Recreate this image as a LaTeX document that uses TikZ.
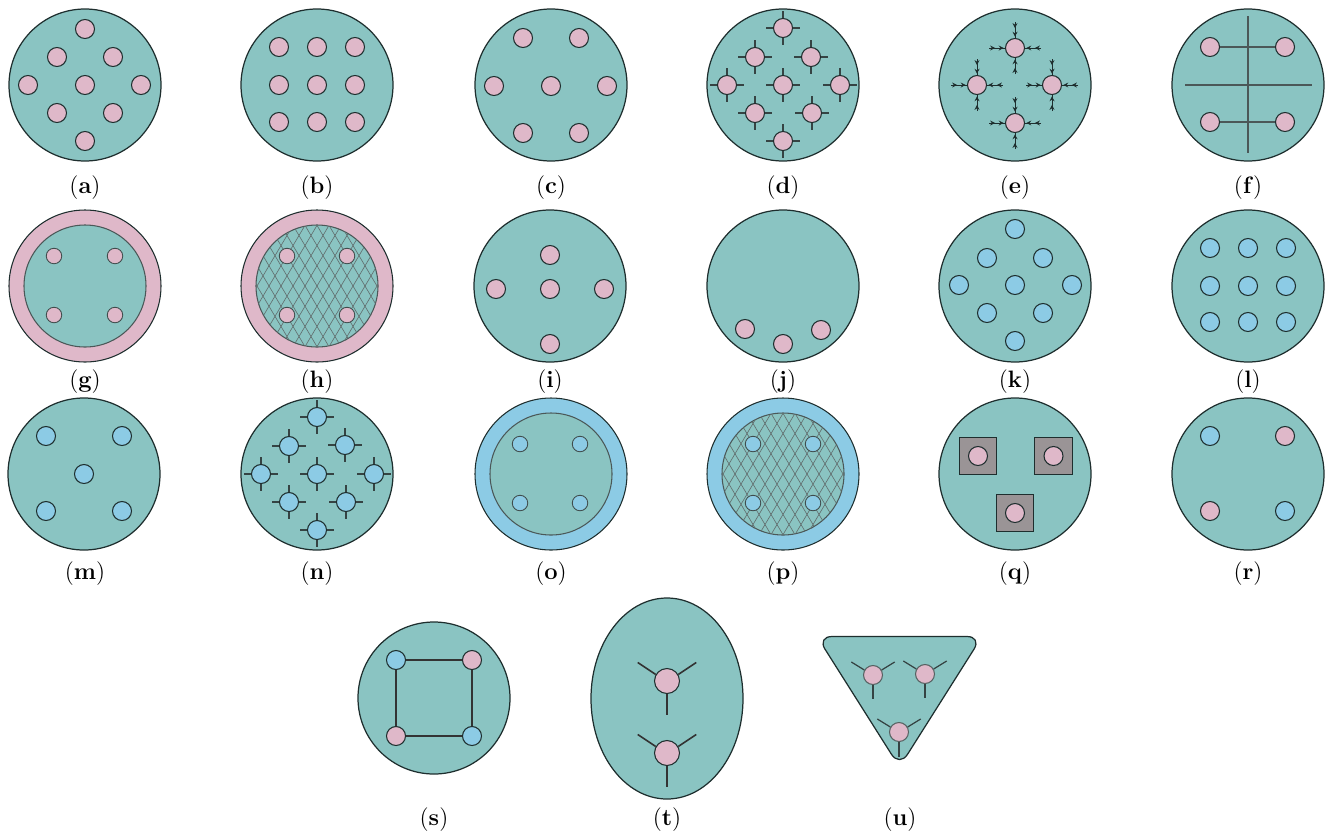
\documentclass[tikz,border=0pt]{standalone}
\usepackage{xcolor}
\usepackage{tikz}
\usetikzlibrary{arrows.meta,decorations.markings}

\definecolor{plategreen}{HTML}{8AC4C2}
\definecolor{pinkfill}{HTML}{DFB8C9}
\definecolor{bluefill}{HTML}{8CCBE5}
\definecolor{greyfill}{HTML}{9A9496}
\definecolor{edgedark}{HTML}{1E2E2E}

\tikzset{
  plate/.style={draw=edgedark, fill=plategreen, line width=0.7pt},
  ringpink/.style={draw=edgedark, fill=pinkfill, line width=0.6pt},
  ringblue/.style={draw=edgedark, fill=bluefill, line width=0.6pt},
  inner/.style={draw=edgedark!80, fill=plategreen, line width=0.6pt},
  pinkdot/.style={circle, draw=edgedark, fill=pinkfill, line width=0.6pt, inner sep=0pt, minimum size=0.38cm},
  bluedot/.style={circle, draw=edgedark, fill=bluefill, line width=0.6pt, inner sep=0pt, minimum size=0.38cm},
  smallpink/.style={pinkdot, minimum size=0.31cm, draw=edgedark!85, line width=0.5pt},
  smallblue/.style={bluedot, minimum size=0.31cm, draw=edgedark!85, line width=0.5pt},
  spoke/.style={draw=edgedark!90, line width=0.7pt},
  thinline/.style={draw=edgedark!80, line width=0.65pt},
  arm/.style={draw=black!80, line width=0.9pt},
  meshline/.style={draw=edgedark!70, line width=0.35pt},
  feedline/.style={draw=edgedark, line width=0.5pt, postaction={decorate},
    decoration={markings,
      mark=at position 0.38 with {\arrow{Stealth[length=2.8pt,width=2.8pt]}},
      mark=at position 0.92 with {\arrow{Stealth[length=2.8pt,width=2.8pt]}}}},
  sublabel/.style={font=\fontsize{13.5}{16}\selectfont, inner sep=0pt},
}

\begin{document}
\begin{tikzpicture}[x=0.02cm, y=-0.02cm]
  \useasboundingbox (0,0) rectangle (1328,839);

  % Plain round plates
  \foreach \x/\y in {85/85,317/85,551/85,783/85,1015/85,1248/85,
                     550/286,783/286,1015/286,1248/286,
                     84/474,317/474,1015/474,1248/474,434/698} {
    \draw[plate] (\x,\y) circle (76);
  }

  % Plates with a ring
  \foreach \x/\y/\ring in {85/286/ringpink,317/286/ringpink,551/474/ringblue,783/474/ringblue} {
    \draw[\ring] (\x,\y) circle (76);
    \draw[inner] (\x,\y) circle (61);
  }

  % Mesh of (h) and (p)
  \foreach \x/\y in {317/286,783/474} {
    \begin{scope}
      \clip (\x,\y) circle (61);
      \foreach \k in {-14,...,14} {
        \draw[meshline] (\x+\k*12-38,\y-64) -- (\x+\k*12+38,\y+64);
        \draw[meshline] (\x+\k*12+38,\y-64) -- (\x+\k*12-38,\y+64);
      }
    \end{scope}
  }

  % Taller plate and triangular plate
  \draw[plate] (667,698.5) ellipse (76 and 100.5);
  \draw[plate, rounded corners=0.3cm] (817,636.5) -- (982,636.5) -- (899.5,767) -- cycle;

  % Dots of (a), (b), (c), (i), (j)
  \foreach \x/\y [count=\i] in {85/29,57/57,113/57,28/85,85/85,141/85,57/113,113/113,85/141,
      279/47,317/47,355/47,279/85,317/85,355/85,279/122,317/122,355/122,
      523/38,579/38,494/86,551/86,607/86,523/133,579/133,
      550/255,496/289,550/289,604/289,550/344,
      745/329,783/344,821/330} {
    \node[pinkdot] (p\i) at (\x,\y) {};
  }

  % Dots of (k), (l), (m)
  \foreach \x/\y [count=\i] in {1015/229,987/258,1043/258,959/285,1015/285,1072/285,987/313,1043/313,1015/341,
      1210/248,1248/248,1286/248,1210/286,1248/286,1286/286,1210/322,1248/322,1286/322,
      46/436,122/436,84/474,46/511,122/511} {
    \node[bluedot] (b\i) at (\x,\y) {};
  }

  % Dots with short ticks, (d) and (n)
  \foreach \x/\y [count=\i] in {783/28,755/57,811/57,727/85,783/85,840/85,755/113,812/113,783/141} {
    \node[pinkdot] (d\i) at (\x,\y) {};
    \draw[spoke] (d\i.north) -- ++(0,-7);
    \draw[spoke] (d\i.south) -- ++(0,7);
    \draw[spoke] (d\i.west) -- ++(-7,0);
    \draw[spoke] (d\i.east) -- ++(7,0);
  }
  \foreach \x/\y [count=\i] in {317/417,289/446,345/445,261/474,317/474,374/474,289/502,346/502,317/530} {
    \node[bluedot] (n\i) at (\x,\y) {};
    \draw[spoke] (n\i.north) -- ++(0,-7);
    \draw[spoke] (n\i.south) -- ++(0,7);
    \draw[spoke] (n\i.west) -- ++(-7,0);
    \draw[spoke] (n\i.east) -- ++(7,0);
  }

  % Dots with arrows running in, (e)
  \foreach \x/\y [count=\i] in {1015/48,977/85,1052/85,1015/123} {
    \node[pinkdot] (e\i) at (\x,\y) {};
    \coordinate (et\i) at (\x,\y-26);
    \coordinate (eb\i) at (\x,\y+26);
    \coordinate (el\i) at (\x-26,\y);
    \coordinate (er\i) at (\x+26,\y);
    \draw[feedline] (et\i) -- (e\i.north);
    \draw[feedline] (eb\i) -- (e\i.south);
    \draw[feedline] (el\i) -- (e\i.west);
    \draw[feedline] (er\i) -- (e\i.east);
  }

  % Plate (f)
  \coordinate (ftop) at (1248,16);
  \coordinate (fbot) at (1248,153);
  \coordinate (fleft) at (1185,85);
  \coordinate (fright) at (1312,85);
  \draw[thinline] (ftop) -- (fbot);
  \draw[thinline] (fleft) -- (fright);
  \node[pinkdot] (f1) at (1210,47) {};
  \node[pinkdot] (f2) at (1285,47) {};
  \node[pinkdot] (f3) at (1210,122) {};
  \node[pinkdot] (f4) at (1285,122) {};
  \draw[thinline] (f1) -- (f2);
  \draw[thinline] (f3) -- (f4);

  % Small dots on the ringed plates
  \foreach \x/\y [count=\i] in {54/256,115/256,54/315,115/315,287/256,347/256,287/315,347/315} {
    \node[smallpink] (g\i) at (\x,\y) {};
  }
  \foreach \x/\y [count=\i] in {520/444,580/444,520/503,580/503,753/444,813/444,753/503,813/503} {
    \node[smallblue] (o\i) at (\x,\y) {};
  }

  % Squares of (q)
  \foreach \x/\y [count=\i] in {978/456,1053.5/456,1015/513} {
    \node[draw=edgedark, fill=greyfill, line width=0.7pt, minimum size=0.75cm, inner sep=0pt] (q\i) at (\x,\y) {};
    \node[pinkdot] (qd\i) at (\x,\y) {};
  }

  % Mixed dots of (r)
  \node[bluedot] (r1) at (1210,436) {};
  \node[pinkdot] (r2) at (1285,436) {};
  \node[pinkdot] (r3) at (1210,511) {};
  \node[bluedot] (r4) at (1285,511) {};

  % Square of (s)
  \node[bluedot] (s1) at (396,660) {};
  \node[pinkdot] (s2) at (472,660) {};
  \node[pinkdot] (s3) at (396,736) {};
  \node[bluedot] (s4) at (472,736) {};
  \draw[arm] (s1) -- (s2) -- (s4) -- (s3) -- (s1);

  % Three armed dots of (t)
  \foreach \y [count=\i] in {681,753} {
    \node[pinkdot, minimum size=0.5cm] (t\i) at (667,\y) {};
    \draw[arm] (t\i.south) -- ++(0,21);
    \draw[arm] (t\i.150) -- ++(-18,-12);
    \draw[arm] (t\i.30) -- ++(18,-12);
  }

  % Three armed dots of (u)
  \foreach \x/\y/\len [count=\i] in {873/675/14,925/674/14,899/732/15} {
    \node[pinkdot, draw=edgedark!75] (u\i) at (\x,\y) {};
    \draw[spoke] (u\i.south) -- ++(0,\len);
    \draw[spoke] (u\i.150) -- ++(-13,-8);
    \draw[spoke] (u\i.30) -- ++(13,-8);
  }

  % Captions
  \foreach \lab/\x/\y in {a/85/188,b/317/188,c/551/188,d/783/188,e/1015/188,f/1248/188,
      g/85/382,h/317/382,i/550/382,j/783/382,k/1015/382,l/1248/382,
      m/85/574,n/317/574,o/551/574,p/783/574,q/1015/574,r/1248/574,
      s/434/820,t/667/820,u/900/820} {
    \node[sublabel] (cap\lab) at (\x,\y) {(\textbf{\lab})};
  }
\end{tikzpicture}
\end{document}
